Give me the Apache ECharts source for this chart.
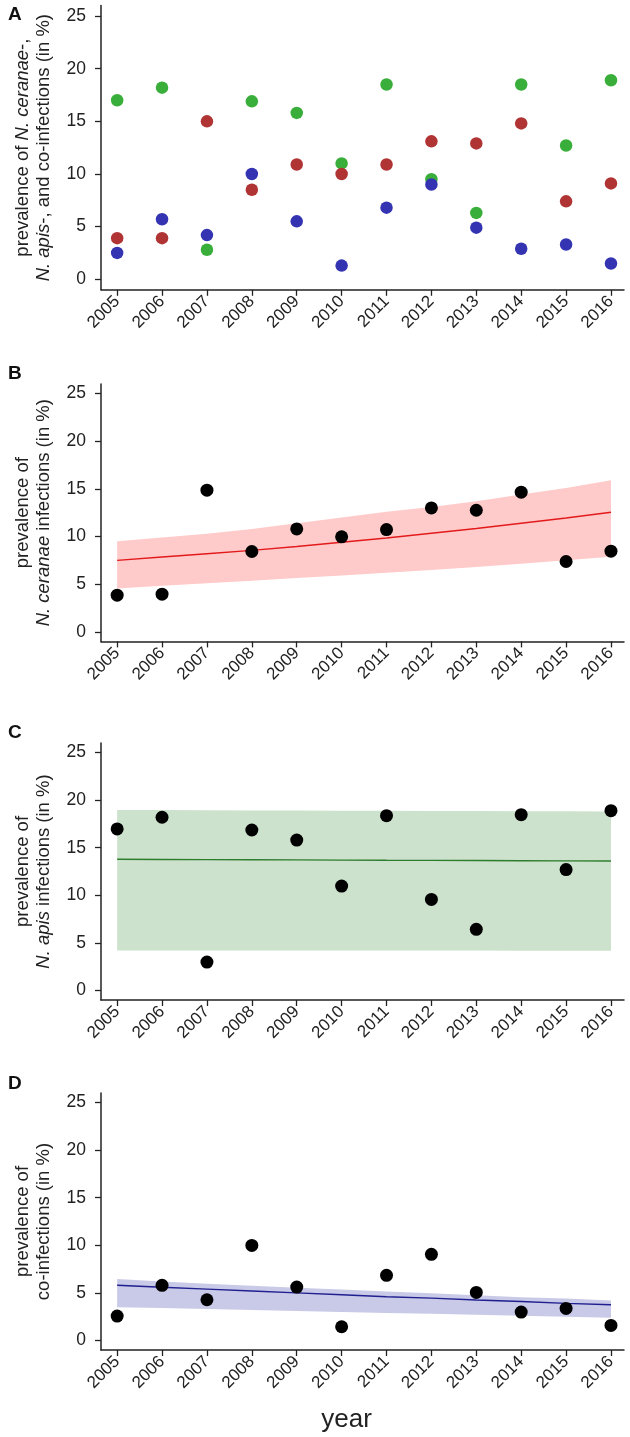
<!DOCTYPE html>
<html>
<head>
<meta charset="utf-8">
<script src="https://cdn.jsdelivr.net/npm/echarts@6/dist/echarts.min.js"></script>
<style>
  html, body { margin: 0; padding: 0; background: #fff; }
  #chart { width: 630px; height: 1437px; }
</style>
</head>
<body>
<div id="chart"></div>
<script>
// 年份与刻度
const years = [2005, 2006, 2007, 2008, 2009, 2010, 2011, 2012, 2013, 2014, 2015, 2016];
const yTicks = [0, 5, 10, 15, 20, 25];

// A: 三个系列
const ceranaeA = [3.9, 3.9, 15.0, 8.5, 10.9, 10.0, 10.9, 13.1, 12.9, 14.8, 7.4, 9.1];
const apisA = [17.0, 18.2, 2.8, 16.9, 15.8, 11.0, 18.5, 9.5, 6.3, 18.5, 12.7, 18.9];
const coinfA = [2.5, 5.7, 4.2, 10.0, 5.5, 1.3, 6.8, 9.0, 4.9, 2.9, 3.3, 1.5];

// B: N. ceranae
const ceranaeB = [3.85, 3.95, 14.86, 8.43, 10.8, 9.97, 10.73, 13.0, 12.76, 14.65, 7.38, 8.46];
const ceranaeFit = [7.5, 7.85, 8.2, 8.55, 8.95, 9.4, 9.85, 10.35, 10.85, 11.4, 11.95, 12.55];
const ceranaeLow = [4.55, 4.85, 5.1, 5.35, 5.65, 5.9, 6.2, 6.5, 6.8, 7.15, 7.5, 7.87];
const ceranaeUp = [9.5, 9.9, 10.3, 10.8, 11.4, 12.0, 12.6, 13.1, 13.7, 14.4, 15.1, 15.9];

// C: N. apis
const apisC = [16.97, 18.2, 2.98, 16.86, 15.8, 10.97, 18.37, 9.57, 6.42, 18.47, 12.7, 18.89];
const apisFit = [13.78, 13.76, 13.75, 13.73, 13.72, 13.7, 13.68, 13.67, 13.65, 13.63, 13.62, 13.6];
const apisLow = [4.2, 4.2, 4.2, 4.2, 4.2, 4.2, 4.2, 4.19, 4.19, 4.18, 4.18, 4.17];
const apisUp = [18.97, 18.95, 18.94, 18.92, 18.91, 18.89, 18.88, 18.86, 18.85, 18.83, 18.82, 18.8];

// D: co-infections
const coinfD = [2.56, 5.79, 4.28, 9.99, 5.61, 1.44, 6.84, 9.05, 5.05, 2.98, 3.37, 1.58];
const coinfFit = [5.8, 5.6, 5.4, 5.2, 5.0, 4.8, 4.6, 4.45, 4.25, 4.1, 3.9, 3.75];
const coinfLow = [3.5, 3.4, 3.3, 3.2, 3.1, 3.0, 2.9, 2.8, 2.7, 2.6, 2.5, 2.38];
const coinfUp = [6.45, 6.2, 5.95, 5.75, 5.55, 5.35, 5.15, 4.95, 4.75, 4.55, 4.4, 4.2];

const FONT = 'Liberation Sans, Arial, sans-serif';
const AXIS_COLOR = '#222';

// 各面板位置
const grids = [
    {left: 101, right: 6, top: 5.5, height: 284.3},
    {left: 101, right: 6, top: 384, height: 257.4},
    {left: 101, right: 6, top: 743, height: 257},
    {left: 101, right: 6, top: 1093, height: 257}
];

const yNames = [
    '{n|prevalence of }{i|N. ceranae}{n|-,}\n{i|N. apis}{n|-, and co-infections (in %)}',
    '{n|prevalence of}\n{i|N. ceranae}{n| infections (in %)}',
    '{n|prevalence of}\n{i|N. apis}{n| infections (in %)}',
    '{n|prevalence of}\n{n|co-infections (in %)}'
];

function pairs(vals) {
    return years.map((y, i) => [y, vals[i]]);
}

let xAxes = [], yAxes = [], series = [];
grids.forEach((g, k) => {
    xAxes.push({
        type: 'value', gridIndex: k, min: 2004.64, max: 2016.29,
        splitLine: {show: false},
        axisLine: {onZero: false, lineStyle: {color: AXIS_COLOR, width: 1.5}},
        axisTick: {customValues: years, length: 6, lineStyle: {color: AXIS_COLOR, width: 1.3}},
        axisLabel: {
            customValues: years, rotate: 45, margin: 9,
            fontFamily: FONT, fontSize: 17, color: '#222',
            formatter: v => String(v)
        },
        name: k === 3 ? 'year' : '',
        nameLocation: 'middle', nameGap: 57,
        nameTextStyle: {fontFamily: FONT, fontSize: 26, color: '#222', padding: [0, 32, 0, 0]}
    });
    yAxes.push({
        type: 'value', gridIndex: k, min: -1, max: 26,
        splitLine: {show: false},
        axisLine: {show: true, onZero: false, lineStyle: {color: AXIS_COLOR, width: 1.5}},
        axisTick: {show: true, customValues: yTicks, length: 6, lineStyle: {color: AXIS_COLOR, width: 1.3}},
        axisLabel: {customValues: yTicks, margin: 15, fontFamily: FONT, fontSize: 17.5, color: '#222'},
        name: yNames[k], nameLocation: 'middle', nameRotate: 90, nameGap: 47,
        nameTextStyle: {
            rich: {
                n: {fontFamily: FONT, fontSize: 18.5, color: '#222', lineHeight: 21},
                i: {fontFamily: FONT, fontSize: 18.5, color: '#222', fontStyle: 'italic', lineHeight: 21}
            }
        }
    });
});

function dots(k, vals, color, size, z) {
    return {
        type: 'scatter', xAxisIndex: k, yAxisIndex: k, data: pairs(vals),
        symbol: 'circle', symbolSize: size, itemStyle: {color: color, opacity: 1}, z: z
    };
}

// 置信带(多边形) + 拟合线
function band(k, low, up, fit, bandColor, lineColor) {
    return [
        {
            type: 'custom', xAxisIndex: k, yAxisIndex: k, silent: true, z: 1,
            data: [[years[0], low[0]]],
            renderItem: function (params, api) {
                let pts = years.map((y, i) => api.coord([y, up[i]]));
                for (let i = years.length - 1; i >= 0; i--) {
                    pts.push(api.coord([years[i], low[i]]));
                }
                return {type: 'polygon', shape: {points: pts}, style: {fill: bandColor}};
            }
        },
        {
            type: 'line', xAxisIndex: k, yAxisIndex: k, data: pairs(fit),
            symbol: 'none', lineStyle: {color: lineColor, width: 1.4}, silent: true, z: 2
        }
    ];
}

// A
series.push(dots(0, apisA, '#3aae3a', 12.5, 3));
series.push(dots(0, ceranaeA, '#b03434', 12.5, 4));
series.push(dots(0, coinfA, '#3434b2', 12.5, 5));
// B
series = series.concat(band(1, ceranaeLow, ceranaeUp, ceranaeFit, '#ffcaca', '#e31a1c'));
series.push(dots(1, ceranaeB, '#000', 13, 5));
// C
series = series.concat(band(2, apisLow, apisUp, apisFit, '#cce2cc', '#2e7d2e'));
series.push(dots(2, apisC, '#000', 13, 5));
// D
series = series.concat(band(3, coinfLow, coinfUp, coinfFit, '#c9c9e8', '#1f1f8f'));
series.push(dots(3, coinfD, '#000', 13, 5));

const letterStyle = {fontFamily: FONT, fontSize: 19, fontWeight: 'bold', color: '#111'};
let myChart = echarts.init(document.getElementById('chart'), null, {renderer: 'canvas'});
myChart.setOption({
    animation: false,
    title: [
        {text: 'A', left: 8, top: 5, padding: 0, textStyle: letterStyle},
        {text: 'B', left: 8, top: 364, padding: 0, textStyle: letterStyle},
        {text: 'C', left: 8, top: 723, padding: 0, textStyle: letterStyle},
        {text: 'D', left: 8, top: 1074, padding: 0, textStyle: letterStyle}
    ],
    grid: grids,
    xAxis: xAxes,
    yAxis: yAxes,
    series: series
});
</script>
</body>
</html>
